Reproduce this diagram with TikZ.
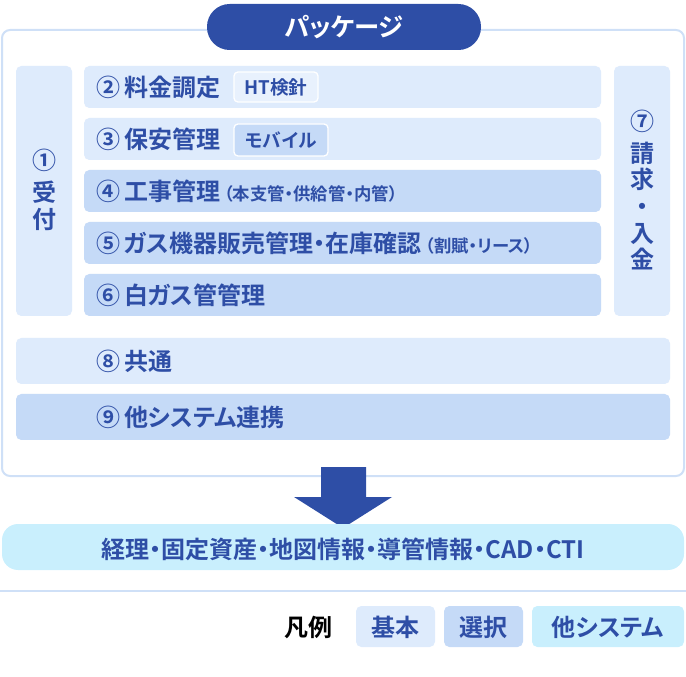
\documentclass[tikz,border=0pt]{standalone}
\usepackage{fontspec}
\newfontfamily\jp[BoldFont={Noto Sans CJK JP Bold},RawFeature=+palt]{Noto Sans CJK JP}
\usetikzlibrary{positioning}
\definecolor{navy}{HTML}{2E4EA6}
\definecolor{basic}{HTML}{DEEBFC}
\definecolor{select}{HTML}{C5DAF7}
\definecolor{other}{HTML}{C9EFFD}
\definecolor{frame}{HTML}{CFE0F7}
\tikzset{
  txt/.style={font=\jp\bfseries\fontsize{18}{20}\selectfont,text=navy,inner sep=0pt},
  small/.style={font=\jp\bfseries\fontsize{14}{16}\selectfont,text=navy,inner sep=0pt},
  box/.style={rounded corners=4pt,draw=none}
}
\newcommand\paren[1]{{\fontsize{13}{15}\selectfont #1}}
\begin{document}
\begin{tikzpicture}[x=0.75pt,y=-0.75pt]
\useasboundingbox (0,0) rectangle (686,677);
% frame
\draw[frame,line width=1.5pt,fill=white,rounded corners=6pt] (2,30) rectangle (684,476);
\fill[navy,rounded corners=17pt] (207,4) rectangle (481,50);
\node[txt,text=white,font=\jp\bfseries\fontsize{19}{21}\selectfont] (title) at (344,27) {パッケージ};
% side columns
\fill[basic,box] (16,66) rectangle (72,316);
\node[txt,align=center] (uke) at (44,190) {①\\[4pt]受\\付};
\fill[basic,box] (614,66) rectangle (670,316);
\node[txt,align=center] (seikyu) at (642,190) {⑦\\[4pt]請\\求\\・\\入\\金};
% rows
\fill[basic,box] (84,66) rectangle (601,108);
\node[txt,anchor=west] (r2) at (96,87) {②\,料金調定};
\draw[white,fill=basic!70!white,line width=1pt,rounded corners=3pt] (234,72) rectangle (318,102);
\node[small] (ht) at (276,87) {HT検針};
\fill[basic,box] (84,118) rectangle (601,160);
\node[txt,anchor=west] (r3) at (96,139) {③\,保安管理};
\draw[white,fill=select,line width=1pt,rounded corners=3pt] (234,124) rectangle (328,156);
\node[small] (mob) at (281,140) {モバイル};
\fill[select,box] (84,170) rectangle (601,212);
\node[txt,anchor=west] (r4) at (96,191) {④\,工事管理\,\paren{（本支管・供給管・内管）}};
\fill[select,box] (84,222) rectangle (601,264);
\node[txt,anchor=west] (r5) at (96,243) {⑤\,ガス機器販売管理・在庫確認\,\paren{（割賦・リース）}};
\fill[select,box] (84,274) rectangle (601,316);
\node[txt,anchor=west] (r6) at (96,295) {⑥\,白ガス管管理};
\fill[basic,box] (16,338) rectangle (670,384);
\node[txt,anchor=west] (r8) at (96,361) {⑧\,共通};
\fill[select,box] (16,394) rectangle (670,440);
\node[txt,anchor=west] (r9) at (96,417) {⑨\,他システム連携};
% arrow
\fill[navy] (321,467) -- (366,467) -- (366,497) -- (392,497) -- (343,528) -- (294,497) -- (321,497) -- cycle;
% external
\fill[other,rounded corners=12pt] (2,524) rectangle (684,570);
\node[txt] (ext) at (343,549) {経理・固定資産・地図情報・導管情報・CAD・CTI};
\draw[frame,line width=1.2pt] (0,591) -- (686,591);
% legend
\node[txt,text=black] (hanrei) at (308,627) {凡例};
\fill[basic,box] (356,606) rectangle (435,647);
\node[txt] (lk) at (395.5,627) {基本};
\fill[select,box] (444,606) rectangle (523,647);
\node[txt] (ls) at (483.5,627) {選択};
\fill[other,box] (532,606) rectangle (684,647);
\node[txt] (lo) at (608,627) {他システム};
\end{tikzpicture}
\end{document}
